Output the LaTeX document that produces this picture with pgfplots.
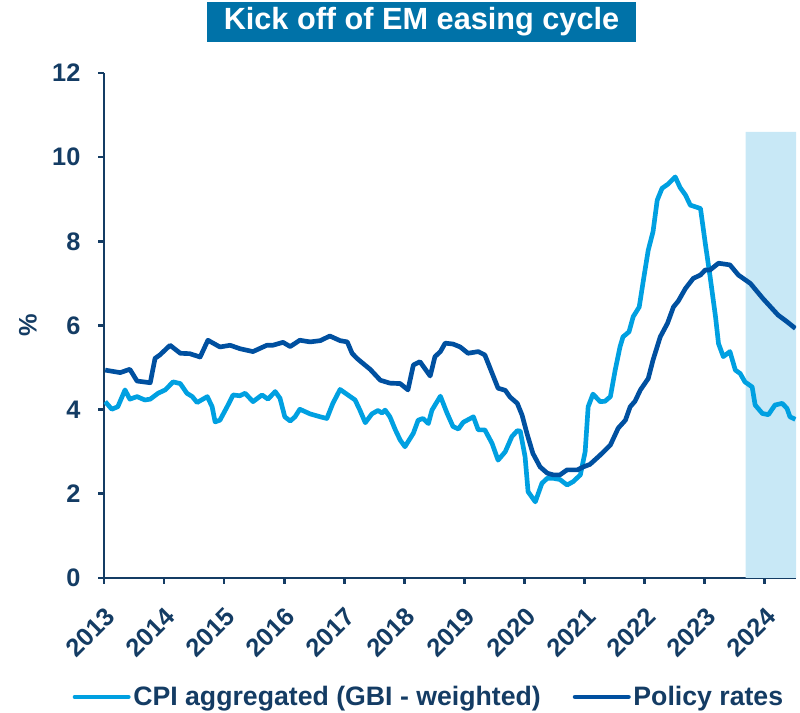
\documentclass[border=0pt]{standalone}
\usepackage{fontspec}
\setmainfont{Liberation Sans}
\usepackage{pgfplots}
\pgfplotsset{compat=1.18}
\definecolor{cpi}{RGB}{0,160,225}
\definecolor{pol}{RGB}{0,80,160}
\definecolor{axc}{RGB}{20,60,100}
\definecolor{shade}{RGB}{200,232,246}
\definecolor{titlebg}{RGB}{0,114,168}
\begin{document}
\begin{tikzpicture}
\begin{axis}[
  name=ax,
  scale only axis, width=519pt, height=378.75pt,
  xmin=2013, xmax=2024.52, ymin=0, ymax=12,
  axis x line*=bottom, axis y line*=left,
  axis line style={axc, line width=2pt},
  xtick={2013,2014,2015,2016,2017,2018,2019,2020,2021,2022,2023,2024},
  xticklabels={2013,2014,2015,2016,2017,2018,2019,2020,2021,2022,2023,2024},
  ytick={0,2,4,6,8,10,12},
  yticklabels={0,2,4,6,8,10,12},
  tick align=outside, major tick length=4.5pt,
  tick style={axc, line width=2pt},
  ticklabel style={font=\fontsize{19}{19}\selectfont\bfseries, text=axc, inner sep=0pt},
  xticklabel style={anchor=north east, xshift=0pt, yshift=-16pt, rotate=45},
  yticklabel style={anchor=east, xshift=-13pt},
  ylabel={\%},
  ylabel style={at={(axis description cs:-0.11,0.5)}, anchor=center, font=\fontsize{19}{19}\selectfont\bfseries, text=axc},
  legend style={at={(0.4700,-0.2356)}, anchor=center, draw=none, fill=none,
    font=\fontsize{20}{20}\selectfont\bfseries, text=axc, legend columns=2,
    /tikz/every even column/.append style={column sep=22pt},
    /tikz/every odd column/.append style={column sep=0pt}},
  legend cell align=left,
  legend image code/.code={\draw[#1, line width=3.5pt, line cap=round] (0pt,0pt) -- (40pt,0pt);},
]
\addplot[fill=shade, draw=none, forget plot] coordinates {(2023.68,0) (2024.52,0) (2024.52,10.6) (2023.68,10.6)} \closedcycle;
\addplot[cpi, line width=3.5pt, line join=round] coordinates {
(2013.02,4.19) (2013.13,4.01) (2013.23,4.07) (2013.35,4.47) (2013.43,4.25) (2013.55,4.31)
(2013.68,4.23) (2013.77,4.25) (2013.90,4.39) (2014.02,4.47) (2014.15,4.66) (2014.27,4.62)
(2014.38,4.39) (2014.47,4.31) (2014.55,4.17) (2014.72,4.31) (2014.80,4.07) (2014.85,3.71)
(2014.93,3.75) (2015.05,4.07) (2015.15,4.35) (2015.26,4.33) (2015.35,4.39) (2015.48,4.19)
(2015.63,4.35) (2015.73,4.25) (2015.85,4.43) (2015.93,4.27) (2016.01,3.83) (2016.10,3.73)
(2016.18,3.83) (2016.26,4.01) (2016.43,3.90) (2016.60,3.83) (2016.71,3.79) (2016.81,4.15)
(2016.93,4.48) (2017.06,4.35) (2017.18,4.23) (2017.26,3.99) (2017.35,3.69) (2017.46,3.90)
(2017.56,3.98) (2017.63,3.92) (2017.68,3.99) (2017.76,3.83) (2017.85,3.52) (2017.93,3.28)
(2018.01,3.12) (2018.15,3.44) (2018.23,3.75) (2018.31,3.79) (2018.40,3.67) (2018.46,3.99)
(2018.60,4.32) (2018.71,3.92) (2018.81,3.60) (2018.90,3.54) (2018.98,3.70) (2019.15,3.83)
(2019.23,3.52) (2019.34,3.52) (2019.46,3.20) (2019.56,2.80) (2019.68,3.00) (2019.79,3.36)
(2019.88,3.50) (2019.93,3.49) (2020.01,2.88) (2020.06,2.05) (2020.18,1.81) (2020.29,2.25)
(2020.38,2.37) (2020.48,2.37) (2020.59,2.34) (2020.71,2.21) (2020.81,2.29) (2020.93,2.45)
(2021.01,3.00) (2021.06,4.07) (2021.14,4.37) (2021.26,4.19) (2021.34,4.20) (2021.43,4.31)
(2021.51,4.94) (2021.59,5.49) (2021.64,5.73) (2021.74,5.85) (2021.81,6.21) (2021.91,6.44)
(2021.98,7.08) (2022.06,7.79) (2022.14,8.23) (2022.21,8.98) (2022.29,9.26) (2022.39,9.36)
(2022.51,9.53) (2022.59,9.28) (2022.68,9.10) (2022.76,8.86) (2022.93,8.78) (2023.01,7.95)
(2023.09,7.16) (2023.18,6.21) (2023.23,5.57) (2023.31,5.26) (2023.42,5.38) (2023.51,4.94)
(2023.59,4.86) (2023.67,4.66) (2023.79,4.54) (2023.84,4.11) (2023.96,3.91) (2024.06,3.88)
(2024.17,4.11) (2024.29,4.15) (2024.37,4.03) (2024.42,3.83) (2024.51,3.77)
};
\addlegendentry{CPI aggregated (GBI - weighted)}
\addplot[pol, line width=3.5pt, line join=round] coordinates {
(2013.02,4.94) (2013.27,4.88) (2013.43,4.96) (2013.55,4.68) (2013.77,4.64) (2013.85,5.22)
(2013.93,5.30) (2014.10,5.53) (2014.27,5.34) (2014.43,5.33) (2014.60,5.25) (2014.73,5.65)
(2014.93,5.49) (2015.10,5.53) (2015.26,5.45) (2015.48,5.38) (2015.71,5.53) (2015.81,5.53)
(2015.98,5.60) (2016.10,5.50) (2016.26,5.65) (2016.43,5.61) (2016.60,5.64) (2016.76,5.75)
(2016.93,5.64) (2017.05,5.61) (2017.13,5.34) (2017.21,5.22) (2017.31,5.10) (2017.43,4.96)
(2017.60,4.70) (2017.76,4.63) (2017.93,4.62) (2018.06,4.47) (2018.15,5.06) (2018.26,5.14)
(2018.43,4.80) (2018.51,5.26) (2018.60,5.38) (2018.68,5.58) (2018.81,5.56) (2018.93,5.49)
(2019.06,5.34) (2019.23,5.38) (2019.34,5.30) (2019.46,4.87) (2019.56,4.51) (2019.68,4.46)
(2019.76,4.30) (2019.88,4.15) (2019.96,3.87) (2020.04,3.44) (2020.14,2.96) (2020.26,2.64)
(2020.38,2.49) (2020.48,2.45) (2020.59,2.45) (2020.71,2.57) (2020.88,2.57) (2020.98,2.64)
(2021.09,2.70) (2021.26,2.92) (2021.43,3.16) (2021.56,3.56) (2021.68,3.75) (2021.76,4.07)
(2021.84,4.20) (2021.93,4.47) (2022.06,4.74) (2022.14,5.18) (2022.26,5.73) (2022.38,6.05)
(2022.48,6.44) (2022.56,6.58) (2022.68,6.88) (2022.81,7.12) (2022.93,7.20) (2023.01,7.32)
(2023.09,7.32) (2023.23,7.48) (2023.42,7.44) (2023.56,7.20) (2023.76,7.00) (2023.97,6.64)
(2024.22,6.25) (2024.37,6.09) (2024.51,5.93)
};
\addlegendentry{Policy rates}
\end{axis}
\node[fill=titlebg, text=white, font=\fontsize{23}{23}\selectfont\bfseries, minimum width=321.75pt, minimum height=30pt, inner sep=0pt] at ([shift={(238.1pt,417pt)}]ax.south west) {Kick off of EM easing cycle};
\pgfresetboundingbox
\path[use as bounding box] ([shift={(-78pt,-101.25pt)}]ax.south west) rectangle ([shift={(522pt,433.5pt)}]ax.south west);
\end{tikzpicture}
\end{document}
